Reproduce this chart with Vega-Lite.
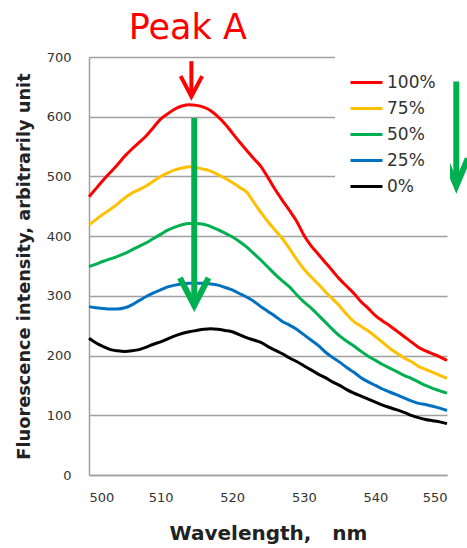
{
  "$schema": "https://vega.github.io/schema/vega-lite/v6.json",
  "autosize": {"type": "none"},
  "width": 358,
  "height": 418,
  "padding": {"left": 89, "top": 57, "right": 20, "bottom": 73},
  "background": "white",
  "view": {"stroke": null},
  "config": {"font": "DejaVu Sans"},
  "datasets": {
    "spectra": [
      {"series":"100%","wavelength":500,"intensity":466},{"series":"100%","wavelength":501,"intensity":480},{"series":"100%","wavelength":502,"intensity":494},{"series":"100%","wavelength":503,"intensity":507},{"series":"100%","wavelength":504,"intensity":520},{"series":"100%","wavelength":505,"intensity":534},{"series":"100%","wavelength":506,"intensity":546},{"series":"100%","wavelength":507,"intensity":557},{"series":"100%","wavelength":508,"intensity":568},{"series":"100%","wavelength":509,"intensity":582},{"series":"100%","wavelength":510,"intensity":596},{"series":"100%","wavelength":511,"intensity":605},{"series":"100%","wavelength":512,"intensity":613},{"series":"100%","wavelength":513,"intensity":618},{"series":"100%","wavelength":514,"intensity":620},{"series":"100%","wavelength":515,"intensity":619},{"series":"100%","wavelength":516,"intensity":616},{"series":"100%","wavelength":517,"intensity":610},{"series":"100%","wavelength":518,"intensity":600},{"series":"100%","wavelength":519,"intensity":588},{"series":"100%","wavelength":520,"intensity":573},{"series":"100%","wavelength":521,"intensity":558},{"series":"100%","wavelength":522,"intensity":544},{"series":"100%","wavelength":523,"intensity":530},{"series":"100%","wavelength":524,"intensity":517},{"series":"100%","wavelength":525,"intensity":498},{"series":"100%","wavelength":526,"intensity":478},{"series":"100%","wavelength":527,"intensity":460},{"series":"100%","wavelength":528,"intensity":443},{"series":"100%","wavelength":529,"intensity":425},{"series":"100%","wavelength":530,"intensity":402},{"series":"100%","wavelength":531,"intensity":384},{"series":"100%","wavelength":532,"intensity":370},{"series":"100%","wavelength":533,"intensity":356},{"series":"100%","wavelength":534,"intensity":342},{"series":"100%","wavelength":535,"intensity":328},{"series":"100%","wavelength":536,"intensity":316},{"series":"100%","wavelength":537,"intensity":304},{"series":"100%","wavelength":538,"intensity":290},{"series":"100%","wavelength":539,"intensity":279},{"series":"100%","wavelength":540,"intensity":267},{"series":"100%","wavelength":541,"intensity":258},{"series":"100%","wavelength":542,"intensity":250},{"series":"100%","wavelength":543,"intensity":241},{"series":"100%","wavelength":544,"intensity":232},{"series":"100%","wavelength":545,"intensity":223},{"series":"100%","wavelength":546,"intensity":214},{"series":"100%","wavelength":547,"intensity":208},{"series":"100%","wavelength":548,"intensity":203},{"series":"100%","wavelength":549,"intensity":198},{"series":"100%","wavelength":550,"intensity":192},
      {"series":"75%","wavelength":500,"intensity":419},{"series":"75%","wavelength":501,"intensity":428},{"series":"75%","wavelength":502,"intensity":437},{"series":"75%","wavelength":503,"intensity":445},{"series":"75%","wavelength":504,"intensity":454},{"series":"75%","wavelength":505,"intensity":464},{"series":"75%","wavelength":506,"intensity":472},{"series":"75%","wavelength":507,"intensity":478},{"series":"75%","wavelength":508,"intensity":484},{"series":"75%","wavelength":509,"intensity":492},{"series":"75%","wavelength":510,"intensity":500},{"series":"75%","wavelength":511,"intensity":506},{"series":"75%","wavelength":512,"intensity":511},{"series":"75%","wavelength":513,"intensity":514},{"series":"75%","wavelength":514,"intensity":516},{"series":"75%","wavelength":515,"intensity":515},{"series":"75%","wavelength":516,"intensity":512},{"series":"75%","wavelength":517,"intensity":509},{"series":"75%","wavelength":518,"intensity":503},{"series":"75%","wavelength":519,"intensity":497},{"series":"75%","wavelength":520,"intensity":490},{"series":"75%","wavelength":521,"intensity":482},{"series":"75%","wavelength":522,"intensity":474},{"series":"75%","wavelength":523,"intensity":457},{"series":"75%","wavelength":524,"intensity":440},{"series":"75%","wavelength":525,"intensity":424},{"series":"75%","wavelength":526,"intensity":410},{"series":"75%","wavelength":527,"intensity":396},{"series":"75%","wavelength":528,"intensity":379},{"series":"75%","wavelength":529,"intensity":361},{"series":"75%","wavelength":530,"intensity":345},{"series":"75%","wavelength":531,"intensity":332},{"series":"75%","wavelength":532,"intensity":320},{"series":"75%","wavelength":533,"intensity":307},{"series":"75%","wavelength":534,"intensity":295},{"series":"75%","wavelength":535,"intensity":283},{"series":"75%","wavelength":536,"intensity":269},{"series":"75%","wavelength":537,"intensity":257},{"series":"75%","wavelength":538,"intensity":249},{"series":"75%","wavelength":539,"intensity":241},{"series":"75%","wavelength":540,"intensity":232},{"series":"75%","wavelength":541,"intensity":222},{"series":"75%","wavelength":542,"intensity":212},{"series":"75%","wavelength":543,"intensity":204},{"series":"75%","wavelength":544,"intensity":196},{"series":"75%","wavelength":545,"intensity":190},{"series":"75%","wavelength":546,"intensity":182},{"series":"75%","wavelength":547,"intensity":177},{"series":"75%","wavelength":548,"intensity":172},{"series":"75%","wavelength":549,"intensity":167},{"series":"75%","wavelength":550,"intensity":162},
      {"series":"50%","wavelength":500,"intensity":349},{"series":"50%","wavelength":501,"intensity":353},{"series":"50%","wavelength":502,"intensity":358},{"series":"50%","wavelength":503,"intensity":362},{"series":"50%","wavelength":504,"intensity":366},{"series":"50%","wavelength":505,"intensity":371},{"series":"50%","wavelength":506,"intensity":377},{"series":"50%","wavelength":507,"intensity":383},{"series":"50%","wavelength":508,"intensity":389},{"series":"50%","wavelength":509,"intensity":396},{"series":"50%","wavelength":510,"intensity":403},{"series":"50%","wavelength":511,"intensity":410},{"series":"50%","wavelength":512,"intensity":415},{"series":"50%","wavelength":513,"intensity":419},{"series":"50%","wavelength":514,"intensity":421},{"series":"50%","wavelength":515,"intensity":421},{"series":"50%","wavelength":516,"intensity":420},{"series":"50%","wavelength":517,"intensity":416},{"series":"50%","wavelength":518,"intensity":411},{"series":"50%","wavelength":519,"intensity":405},{"series":"50%","wavelength":520,"intensity":399},{"series":"50%","wavelength":521,"intensity":391},{"series":"50%","wavelength":522,"intensity":382},{"series":"50%","wavelength":523,"intensity":371},{"series":"50%","wavelength":524,"intensity":360},{"series":"50%","wavelength":525,"intensity":348},{"series":"50%","wavelength":526,"intensity":336},{"series":"50%","wavelength":527,"intensity":325},{"series":"50%","wavelength":528,"intensity":315},{"series":"50%","wavelength":529,"intensity":302},{"series":"50%","wavelength":530,"intensity":290},{"series":"50%","wavelength":531,"intensity":280},{"series":"50%","wavelength":532,"intensity":268},{"series":"50%","wavelength":533,"intensity":256},{"series":"50%","wavelength":534,"intensity":244},{"series":"50%","wavelength":535,"intensity":233},{"series":"50%","wavelength":536,"intensity":224},{"series":"50%","wavelength":537,"intensity":216},{"series":"50%","wavelength":538,"intensity":207},{"series":"50%","wavelength":539,"intensity":199},{"series":"50%","wavelength":540,"intensity":192},{"series":"50%","wavelength":541,"intensity":185},{"series":"50%","wavelength":542,"intensity":179},{"series":"50%","wavelength":543,"intensity":173},{"series":"50%","wavelength":544,"intensity":167},{"series":"50%","wavelength":545,"intensity":162},{"series":"50%","wavelength":546,"intensity":156},{"series":"50%","wavelength":547,"intensity":150},{"series":"50%","wavelength":548,"intensity":145},{"series":"50%","wavelength":549,"intensity":141},{"series":"50%","wavelength":550,"intensity":137},
      {"series":"25%","wavelength":500,"intensity":282},{"series":"25%","wavelength":501,"intensity":280},{"series":"25%","wavelength":502,"intensity":279},{"series":"25%","wavelength":503,"intensity":278},{"series":"25%","wavelength":504,"intensity":278},{"series":"25%","wavelength":505,"intensity":280},{"series":"25%","wavelength":506,"intensity":285},{"series":"25%","wavelength":507,"intensity":292},{"series":"25%","wavelength":508,"intensity":299},{"series":"25%","wavelength":509,"intensity":305},{"series":"25%","wavelength":510,"intensity":310},{"series":"25%","wavelength":511,"intensity":315},{"series":"25%","wavelength":512,"intensity":318},{"series":"25%","wavelength":513,"intensity":320},{"series":"25%","wavelength":514,"intensity":321},{"series":"25%","wavelength":515,"intensity":321},{"series":"25%","wavelength":516,"intensity":321},{"series":"25%","wavelength":517,"intensity":320},{"series":"25%","wavelength":518,"intensity":318},{"series":"25%","wavelength":519,"intensity":314},{"series":"25%","wavelength":520,"intensity":310},{"series":"25%","wavelength":521,"intensity":304},{"series":"25%","wavelength":522,"intensity":298},{"series":"25%","wavelength":523,"intensity":291},{"series":"25%","wavelength":524,"intensity":282},{"series":"25%","wavelength":525,"intensity":274},{"series":"25%","wavelength":526,"intensity":266},{"series":"25%","wavelength":527,"intensity":257},{"series":"25%","wavelength":528,"intensity":251},{"series":"25%","wavelength":529,"intensity":244},{"series":"25%","wavelength":530,"intensity":235},{"series":"25%","wavelength":531,"intensity":226},{"series":"25%","wavelength":532,"intensity":217},{"series":"25%","wavelength":533,"intensity":206},{"series":"25%","wavelength":534,"intensity":197},{"series":"25%","wavelength":535,"intensity":189},{"series":"25%","wavelength":536,"intensity":180},{"series":"25%","wavelength":537,"intensity":172},{"series":"25%","wavelength":538,"intensity":163},{"series":"25%","wavelength":539,"intensity":156},{"series":"25%","wavelength":540,"intensity":150},{"series":"25%","wavelength":541,"intensity":144},{"series":"25%","wavelength":542,"intensity":139},{"series":"25%","wavelength":543,"intensity":134},{"series":"25%","wavelength":544,"intensity":129},{"series":"25%","wavelength":545,"intensity":124},{"series":"25%","wavelength":546,"intensity":120},{"series":"25%","wavelength":547,"intensity":118},{"series":"25%","wavelength":548,"intensity":115},{"series":"25%","wavelength":549,"intensity":112},{"series":"25%","wavelength":550,"intensity":108},
      {"series":"0%","wavelength":500,"intensity":229},{"series":"0%","wavelength":501,"intensity":221},{"series":"0%","wavelength":502,"intensity":215},{"series":"0%","wavelength":503,"intensity":210},{"series":"0%","wavelength":504,"intensity":208},{"series":"0%","wavelength":505,"intensity":207},{"series":"0%","wavelength":506,"intensity":208},{"series":"0%","wavelength":507,"intensity":210},{"series":"0%","wavelength":508,"intensity":214},{"series":"0%","wavelength":509,"intensity":219},{"series":"0%","wavelength":510,"intensity":223},{"series":"0%","wavelength":511,"intensity":228},{"series":"0%","wavelength":512,"intensity":233},{"series":"0%","wavelength":513,"intensity":237},{"series":"0%","wavelength":514,"intensity":240},{"series":"0%","wavelength":515,"intensity":242},{"series":"0%","wavelength":516,"intensity":244},{"series":"0%","wavelength":517,"intensity":245},{"series":"0%","wavelength":518,"intensity":244},{"series":"0%","wavelength":519,"intensity":242},{"series":"0%","wavelength":520,"intensity":240},{"series":"0%","wavelength":521,"intensity":235},{"series":"0%","wavelength":522,"intensity":230},{"series":"0%","wavelength":523,"intensity":226},{"series":"0%","wavelength":524,"intensity":222},{"series":"0%","wavelength":525,"intensity":215},{"series":"0%","wavelength":526,"intensity":209},{"series":"0%","wavelength":527,"intensity":203},{"series":"0%","wavelength":528,"intensity":196},{"series":"0%","wavelength":529,"intensity":190},{"series":"0%","wavelength":530,"intensity":183},{"series":"0%","wavelength":531,"intensity":176},{"series":"0%","wavelength":532,"intensity":169},{"series":"0%","wavelength":533,"intensity":163},{"series":"0%","wavelength":534,"intensity":156},{"series":"0%","wavelength":535,"intensity":150},{"series":"0%","wavelength":536,"intensity":143},{"series":"0%","wavelength":537,"intensity":137},{"series":"0%","wavelength":538,"intensity":132},{"series":"0%","wavelength":539,"intensity":127},{"series":"0%","wavelength":540,"intensity":122},{"series":"0%","wavelength":541,"intensity":117},{"series":"0%","wavelength":542,"intensity":113},{"series":"0%","wavelength":543,"intensity":109},{"series":"0%","wavelength":544,"intensity":105},{"series":"0%","wavelength":545,"intensity":100},{"series":"0%","wavelength":546,"intensity":96},{"series":"0%","wavelength":547,"intensity":93},{"series":"0%","wavelength":548,"intensity":91},{"series":"0%","wavelength":549,"intensity":89},{"series":"0%","wavelength":550,"intensity":86}
    ],
    "redShaft": [{"arrow":"peak","wavelength":514.3,"top":693,"tip":640}],
    "redHead": [{"arrow":"peak","wavelength":512.8,"intensity":668},{"arrow":"peak","wavelength":514.3,"intensity":634},{"arrow":"peak","wavelength":515.8,"intensity":668}],
    "greenShafts": [{"arrow":"center","wavelength":514.7,"top":598,"tip":292},{"arrow":"side","wavelength":551.3,"top":659,"tip":490}],
    "greenHeads": [
      {"arrow":"center","wavelength":512.7,"intensity":330},{"arrow":"center","wavelength":514.7,"intensity":284},{"arrow":"center","wavelength":516.7,"intensity":330},
      {"arrow":"side","wavelength":549.7,"intensity":530},{"arrow":"side","wavelength":551.3,"intensity":484},{"arrow":"side","wavelength":552.9,"intensity":530}
    ],
    "peakLabel": [{"label":"Peak A","wavelength":513.8,"intensity":730}]
  },
  "layer": [
    {
      "data": {"name": "spectra"},
      "mark": {"type": "line", "strokeWidth": 3, "interpolate": "monotone"},
      "encoding": {
        "x": {"field": "wavelength", "type": "quantitative",
          "scale": {"domain": [500, 550], "nice": false, "zero": false},
          "axis": {"values": [500, 510, 520, 530, 540, 550], "grid": false, "ticks": false,
            "domainColor": "#a0a0a0", "domainWidth": 1.5,
            "labelFontSize": 13, "labelColor": "#333333", "labelPadding": 16,
            "title": "Wavelength,\u00a0\u00a0\u00a0nm", "titleFontSize": 20, "titleFontWeight": "bold",
            "titleColor": "#222222", "titlePadding": 19}},
        "y": {"field": "intensity", "type": "quantitative",
          "scale": {"domain": [0, 700], "nice": false},
          "axis": {"values": [0, 100, 200, 300, 400, 500, 600, 700], "grid": true,
            "gridColor": "#a0a0a0", "gridWidth": 1.5, "ticks": false,
            "domainColor": "#a0a0a0", "domainWidth": 1.5,
            "labelFontSize": 13, "labelColor": "#333333", "labelPadding": 18,
            "title": "Fluorescence intensity, arbitrarily unit", "titleFontSize": 17.8,
            "titleFontWeight": "bold", "titleColor": "#222222", "titlePadding": 13}},
        "color": {"field": "series", "type": "nominal",
          "scale": {"domain": ["100%", "75%", "50%", "25%", "0%"],
            "range": ["#ff0000", "#ffc000", "#00b050", "#0070c0", "#000000"]},
          "legend": {"orient": "none", "legendX": 246, "legendY": -6, "title": null,
            "symbolType": "stroke", "symbolSize": 1024, "symbolStrokeWidth": 3,
            "labelFontSize": 17, "labelColor": "#333333", "labelOffset": 3,
            "rowPadding": -8, "padding": 14, "fillColor": "white"}}
      }
    },
    {
      "data": {"name": "redShaft"},
      "mark": {"type": "rule", "color": "#ff0000", "strokeWidth": 4},
      "encoding": {
        "x": {"field": "wavelength", "type": "quantitative"},
        "y": {"field": "top", "type": "quantitative"},
        "y2": {"field": "tip"}
      }
    },
    {
      "data": {"name": "redHead"},
      "mark": {"type": "line", "color": "#ff0000", "strokeWidth": 4, "strokeJoin": "miter"},
      "encoding": {
        "x": {"field": "wavelength", "type": "quantitative"},
        "y": {"field": "intensity", "type": "quantitative"},
        "detail": {"field": "arrow"}
      }
    },
    {
      "data": {"name": "greenShafts"},
      "mark": {"type": "rule", "color": "#00b050", "strokeWidth": 6},
      "encoding": {
        "x": {"field": "wavelength", "type": "quantitative"},
        "y": {"field": "top", "type": "quantitative"},
        "y2": {"field": "tip"}
      }
    },
    {
      "data": {"name": "greenHeads"},
      "mark": {"type": "line", "color": "#00b050", "strokeWidth": 6, "strokeJoin": "miter"},
      "encoding": {
        "x": {"field": "wavelength", "type": "quantitative"},
        "y": {"field": "intensity", "type": "quantitative"},
        "detail": {"field": "arrow"}
      }
    },
    {
      "data": {"name": "peakLabel"},
      "mark": {"type": "text", "color": "#ff0000", "fontSize": 35, "align": "center", "baseline": "alphabetic"},
      "encoding": {
        "x": {"field": "wavelength", "type": "quantitative"},
        "y": {"field": "intensity", "type": "quantitative"},
        "text": {"field": "label"}
      }
    }
  ]
}
